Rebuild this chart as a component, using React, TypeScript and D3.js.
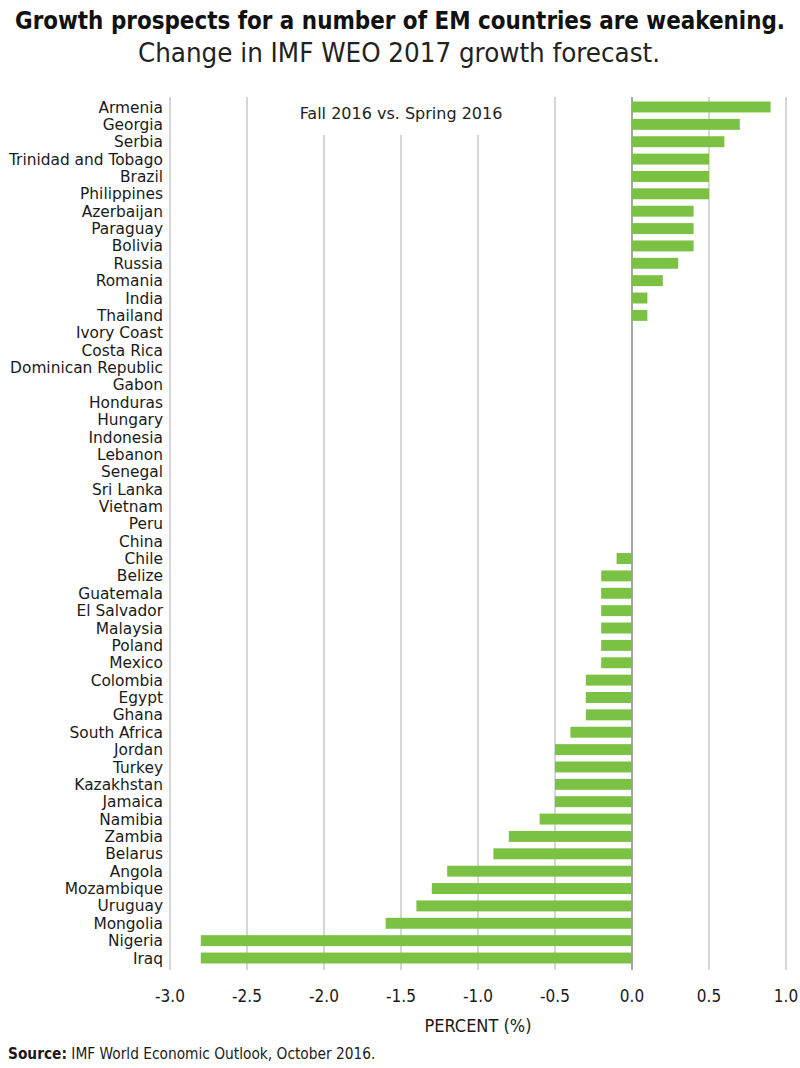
import React from "react";
import * as d3 from "d3";

const countries = [
  "Armenia", "Georgia", "Serbia", "Trinidad and Tobago", "Brazil", "Philippines",
  "Azerbaijan", "Paraguay", "Bolivia", "Russia", "Romania", "India", "Thailand",
  "Ivory Coast", "Costa Rica", "Dominican Republic", "Gabon", "Honduras", "Hungary",
  "Indonesia", "Lebanon", "Senegal", "Sri Lanka", "Vietnam", "Peru", "China",
  "Chile", "Belize", "Guatemala", "El Salvador", "Malaysia", "Poland", "Mexico",
  "Colombia", "Egypt", "Ghana", "South Africa", "Jordan", "Turkey", "Kazakhstan",
  "Jamaica", "Namibia", "Zambia", "Belarus", "Angola", "Mozambique", "Uruguay",
  "Mongolia", "Nigeria", "Iraq",
];

const changes = [
  0.9, 0.7, 0.6, 0.5, 0.5, 0.5,
  0.4, 0.4, 0.4, 0.3, 0.2, 0.1, 0.1,
  0, 0, 0, 0, 0, 0,
  0, 0, 0, 0, 0, 0, 0,
  -0.1, -0.2, -0.2, -0.2, -0.2, -0.2, -0.2,
  -0.3, -0.3, -0.3, -0.4, -0.5, -0.5, -0.5,
  -0.5, -0.6, -0.8, -0.9, -1.2, -1.3, -1.4,
  -1.6, -2.8, -2.8,
];

const xTicks = [-3.0, -2.5, -2.0, -1.5, -1.0, -0.5, 0.0, 0.5, 1.0];

const W = 800;
const H = 1068;
const condensed = "'DejaVu Sans Condensed', 'Liberation Sans Narrow', sans-serif";
const regular = "'DejaVu Sans', 'Liberation Sans', Arial, sans-serif";

const fmt = (t: number) => t.toFixed(1);

export default function App() {
  const x = d3.scaleLinear().domain([-3, 1]).range([170, 786]);
  const y = d3.scaleBand<string>().domain(countries).range([98.3, 966.7]).paddingInner(0.37).paddingOuter(0.185);
  const gridTop = 97;
  const gridBottom = 970;

  return (
    <svg width={W} height={H} style={{ display: "block", position: "absolute", left: 0, top: 0 }}>
      <rect width={W} height={H} fill="#fff" />
      <text x={400} y={29} textAnchor="middle" fontFamily={condensed} fontWeight="bold" fontSize={24}
        fill="#111" textLength={770} lengthAdjust="spacingAndGlyphs">
        Growth prospects for a number of EM countries are weakening.
      </text>
      <text x={399} y={62} textAnchor="middle" fontFamily={condensed} fontSize={26} fill="#222"
        textLength={522} lengthAdjust="spacingAndGlyphs">
        Change in IMF WEO 2017 growth forecast.
      </text>

      {xTicks.map((t) => (
        <line key={t} x1={x(t)} x2={x(t)} y1={gridTop} y2={gridBottom}
          stroke={t === 0 ? "#8a8a8a" : "#c8c8c8"} strokeWidth={1.5} />
      ))}

      <rect x={288} y={97} width={228} height={38} fill="#fff" />
      <text x={401} y={119} textAnchor="middle" fontFamily={regular} fontSize={16} fill="#222">
        Fall 2016 vs. Spring 2016
      </text>

      {countries.map((c, i) => {
        const v = changes[i];
        const x0 = x(Math.min(0, v));
        const x1 = x(Math.max(0, v));
        return (
          <g key={c}>
            {v !== 0 && (
              <rect x={x0} y={y(c)!} width={x1 - x0} height={y.bandwidth()} fill="#7bc143" />
            )}
            <text x={163} y={y(c)! + y.bandwidth() / 2} dy="0.36em" textAnchor="end"
              fontFamily={regular} fontSize={15.4} fill="#1a1a1a">
              {c}
            </text>
          </g>
        );
      })}

      {xTicks.map((t) => (
        <text key={"l" + t} x={x(t)} y={1002} textAnchor="middle" fontFamily={condensed} fontSize={17} fill="#1a1a1a">
          {fmt(t)}
        </text>
      ))}
      <text x={478} y={1032} textAnchor="middle" fontFamily={condensed} fontSize={18} fill="#1a1a1a">
        PERCENT (%)
      </text>

      <text x={8} y={1059} fontFamily={condensed} fontSize={15.3} fill="#1a1a1a">
        <tspan fontWeight="bold">Source:</tspan> IMF World Economic Outlook, October 2016.
      </text>
    </svg>
  );
}
